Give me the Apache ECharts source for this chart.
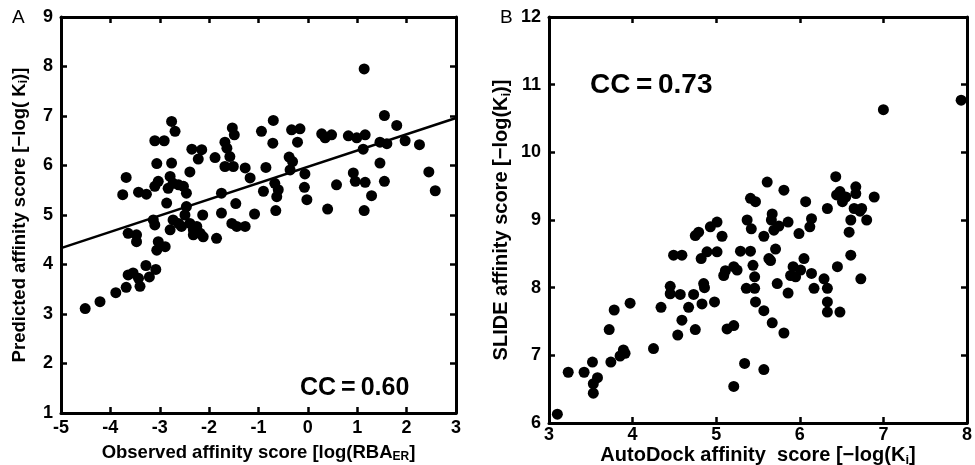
<!DOCTYPE html>
<html><head><meta charset="utf-8">
<script src="https://cdn.jsdelivr.net/npm/echarts@6/dist/echarts.min.js"></script>
<style>html,body{margin:0;padding:0;background:#fff}#c{width:975px;height:465px}</style>
</head><body><div id="c"></div>
<script>
// Panel A: observed vs predicted
const obsA = [-4.51,-4.21,-3.89,-3.68,-3.64,-3.54,-3.40,-3.43,-3.28,-3.21,-3.08,-3.75,-3.68,-3.64,-3.47,-3.47,-3.43,-3.27,-3.10,-2.91,-3.06,-3.03,-3.10,-3.13,-3.10,-3.03,-3.06,-2.89,-2.86,-2.79,-2.76,-2.69,-2.76,-2.79,-2.83,-2.73,-2.62,-2.52,-2.46,-2.73,-2.62,-2.49,-2.46,-2.56,-2.39,-2.32,-2.25,-2.18,-2.12,-2.32,-2.13,-2.35,-2.15,-2.22,-2.39,-1.88,-1.85,-1.75,-1.75,-1.53,-1.49,-1.68,-1.64,-1.58,-1.68,-1.51,-1.54,-1.44,-1.46,-1.27,-1.27,-1.17,-1.08,-0.94,-0.90,-0.85,-0.70,-0.71,-0.67,-0.60,-0.63,-0.65,-0.38,-0.31,-0.36,-0.33,-0.16,-0.21,-0.06,-0.07,-0.02,0.28,0.35,0.48,0.40,0.58,0.82,0.99,1.16,1.12,1.14,0.92,0.96,1.16,1.14,1.29,1.46,1.46,1.60,1.55,1.55,1.80,1.97,2.26,2.45,2.58];
const predA = [3.11,3.25,3.43,3.54,3.79,3.83,3.56,3.72,3.98,3.75,3.90,5.41,5.76,4.63,4.60,4.46,5.46,5.42,6.50,6.50,6.04,5.68,5.58,4.90,4.80,4.46,4.29,4.36,5.24,4.70,6.89,6.69,6.05,5.78,5.54,5.64,5.61,5.58,5.44,4.90,4.83,5.00,5.17,4.77,4.83,4.70,4.77,4.63,4.56,4.60,5.00,6.33,6.32,6.13,5.87,6.16,4.53,5.04,5.44,6.76,6.62,6.47,6.35,6.18,5.98,5.98,4.83,4.77,5.23,4.77,5.95,5.75,5.02,6.69,5.48,5.96,6.91,6.45,5.64,5.51,5.37,5.09,6.17,6.08,5.91,6.72,6.74,6.47,5.83,5.56,5.31,6.64,6.56,6.62,5.12,5.61,6.60,6.56,6.62,6.33,7.95,5.85,5.68,5.66,5.09,5.39,6.05,6.47,6.44,7.01,5.68,6.81,6.50,6.42,5.87,5.49];
const fitX = [-5, 3];
const fitY = [4.33, 6.96];

// Panel B: AutoDock vs SLIDE
const autoB = [3.10,3.23,3.42,3.52,3.53,3.53,3.58,3.74,3.72,3.78,3.85,3.89,3.91,3.97,4.25,4.34,4.45,4.45,4.49,4.59,4.57,4.54,4.59,4.67,4.73,4.75,4.75,4.79,4.82,4.83,4.85,4.86,4.89,4.93,5.01,5.01,4.98,5.07,5.09,5.11,5.13,5.21,5.21,5.25,5.21,5.29,5.34,5.37,5.36,5.41,5.41,5.47,5.42,5.44,5.46,5.46,5.47,5.57,5.57,5.57,5.61,5.63,5.65,5.67,5.66,5.67,5.69,5.71,5.73,5.75,5.81,5.81,5.86,5.86,5.89,5.92,5.99,5.95,6.01,6.05,6.07,6.12,6.14,6.14,6.17,6.29,6.33,6.33,6.33,6.33,6.43,6.45,6.48,6.44,6.48,6.51,6.55,6.59,6.61,6.61,6.65,6.67,6.67,6.72,6.73,6.74,6.80,6.89,7.00,7.93];
const slideB = [6.13,6.75,6.75,6.90,6.58,6.44,6.67,6.90,7.38,7.67,6.99,7.08,7.03,7.77,7.10,7.71,8.02,7.91,8.48,8.48,7.90,7.30,7.52,7.71,7.90,7.38,8.77,8.82,8.43,7.76,8.06,8.00,8.53,8.90,8.97,8.53,7.79,8.76,8.18,8.25,7.39,7.44,8.31,8.26,6.54,8.54,6.88,9.00,7.99,8.54,9.32,9.27,8.87,8.33,8.16,7.99,7.79,8.76,7.66,6.79,9.56,8.43,8.40,9.09,9.00,7.48,8.85,8.57,8.06,8.91,9.44,7.33,8.97,7.92,8.18,8.31,8.80,8.16,8.26,8.43,9.27,8.90,9.02,8.21,7.99,8.13,7.99,7.79,7.64,9.17,9.64,8.31,7.64,9.37,9.42,9.27,9.34,8.82,9.00,8.48,9.17,9.49,9.39,9.13,8.13,9.17,9.00,9.34,10.63,10.77];

const ptsA = obsA.map((x, i) => [x, predA[i]]);
const ptsB = autoB.map((x, i) => [x, slideB[i]]);
const fitLine = fitX.map((x, i) => [x, fitY[i]]);

const FONT = 'Liberation Sans';
function nameStyle(size) {
  return {fontSize: size, fontWeight: 'bold', fontFamily: FONT, color: '#000',
    rich: {sub: {fontSize: Math.round(size * 0.65), fontWeight: 'bold', fontFamily: FONT, color: '#000', padding: [Math.round(size * 0.5), 0, 0, 0]}}};
}
const labelStyle = {fontSize: 18, fontWeight: 'bold', fontFamily: FONT, color: '#000'};

function mainX(grid, min, max, name, gap, size, margin) {
  return {gridIndex: grid, type: 'value', min: min, max: max, interval: 1, position: 'bottom',
    name: name, nameLocation: 'middle', nameGap: gap, nameMoveOverlap: false, nameTextStyle: nameStyle(size),
    axisLine: {show: true, onZero: false, lineStyle: {color: '#000', width: 3}},
    axisTick: {inside: true, length: 6, lineStyle: {color: '#000', width: 2.5}},
    axisLabel: Object.assign({margin: margin}, labelStyle), splitLine: {show: false}};
}
function mainY(grid, min, max, name, gap, size) {
  return {gridIndex: grid, type: 'value', min: min, max: max, interval: 1, position: 'left',
    name: name, nameLocation: 'middle', nameGap: gap, nameMoveOverlap: false, nameTextStyle: nameStyle(size),
    axisLine: {show: true, onZero: false, lineStyle: {color: '#000', width: 3}},
    axisTick: {inside: true, length: 6, lineStyle: {color: '#000', width: 2.5}},
    axisLabel: Object.assign({margin: 8}, labelStyle), splitLine: {show: false}};
}
function sideAxis(grid, min, max, pos) {
  return {gridIndex: grid, type: 'value', min: min, max: max, interval: 1, position: pos,
    axisLine: {show: true, onZero: false, lineStyle: {color: '#000', width: 3}},
    axisTick: {inside: true, length: 6, lineStyle: {color: '#000', width: 2.5}},
    axisLabel: {show: false}, splitLine: {show: false}};
}

const option = {
  animation: false,
  backgroundColor: '#fff',
  grid: [
    {left: 61, right: 519, top: 17, bottom: 52, containLabel: false, outerBoundsMode: 'none'},
    {left: 549, right: 8, top: 17, bottom: 42, containLabel: false, outerBoundsMode: 'none'}
  ],
  xAxis: [
    mainX(0, -5, 3, 'Observed affinity score [log(RBA{sub|ER}]', 29, 18.5, 6),
    sideAxis(0, -5, 3, 'top'),
    mainX(1, 3, 8, 'AutoDock affinity  score [\u2212log(K{sub|i}]', 21, 20, 3),
    sideAxis(1, 3, 8, 'top')
  ],
  yAxis: [
    mainY(0, 1, 9, 'Predicted affinity score [\u2212log( K{sub|i})]', 31, 18.5),
    sideAxis(0, 1, 9, 'right'),
    mainY(1, 6, 12, 'SLIDE affinity score [\u2212log(K{sub|i})]', 36, 20),
    sideAxis(1, 6, 12, 'right')
  ],
  series: [
    {type: 'scatter', xAxisIndex: 0, yAxisIndex: 0, data: ptsA, symbolSize: 11,
     itemStyle: {color: '#000', opacity: 1}},
    {type: 'line', xAxisIndex: 0, yAxisIndex: 0, data: fitLine, showSymbol: false, symbol: 'none',
     lineStyle: {color: '#000', width: 2.5}},
    {type: 'scatter', xAxisIndex: 2, yAxisIndex: 2, data: ptsB, symbolSize: 11,
     itemStyle: {color: '#000', opacity: 1}}
  ],
  graphic: [
    {type: 'text', left: 12, top: 8, style: {text: 'A', fontSize: 19, fontFamily: FONT, fill: '#000'}},
    {type: 'text', left: 500, top: 8, style: {text: 'B', fontSize: 19, fontFamily: FONT, fill: '#000'}},
    {type: 'text', left: 300, top: 376, style: {text: 'CC\u2009=\u20090.60', fontSize: 25, fontWeight: 'bold', fontFamily: FONT, fill: '#000'}},
    {type: 'text', left: 590, top: 71, style: {text: 'CC\u2009=\u20090.73', fontSize: 28, fontWeight: 'bold', fontFamily: FONT, fill: '#000'}}
  ]
};
const chart = echarts.init(document.getElementById('c'), null, {renderer: 'canvas'});
chart.setOption(option);
</script></body></html>
